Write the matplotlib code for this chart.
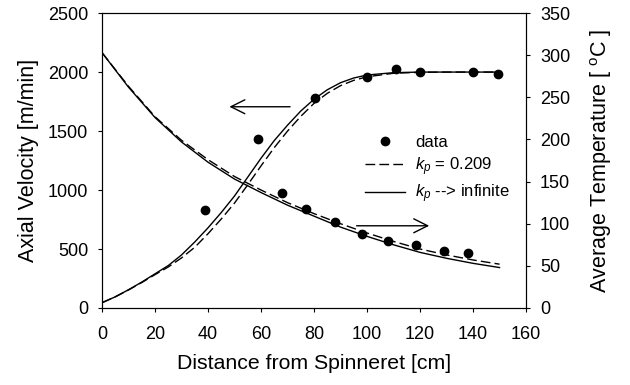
import numpy as np
import matplotlib
matplotlib.use('Agg')
import matplotlib.pyplot as plt

plt.rcParams['font.family'] = ['Liberation Sans', 'DejaVu Sans']
plt.rcParams['mathtext.fontset'] = 'custom'
plt.rcParams['mathtext.rm'] = 'Liberation Sans'
plt.rcParams['mathtext.it'] = 'Liberation Sans:italic'

# distancia desde la hilera [cm]
dist = [0, 5, 10, 15, 20, 25, 30, 35, 40, 45, 50, 55, 60, 65, 70, 75, 80,
        85, 90, 95, 100, 110, 120, 130, 140, 150]

# velocidad axial [m/min]
vel_inf = [45, 95, 155, 220, 290, 360, 450, 560, 680, 810, 950, 1110, 1270,
           1420, 1550, 1670, 1770, 1850, 1910, 1950, 1975, 1995, 2000, 2000, 2000, 2000]
vel_kp = [45, 95, 153, 216, 283, 348, 425, 515, 630, 755, 890, 1045, 1205,
          1360, 1500, 1625, 1735, 1820, 1885, 1930, 1960, 1990, 1998, 2000, 2000, 2000]

# temperatura media [C]
dist_t = [0, 10, 20, 30, 40, 50, 60, 70, 80, 90, 100, 110, 120, 130, 140, 150]
temp_inf = [303, 262, 226, 197, 173, 153, 137, 122, 109, 96, 85, 75, 66, 59, 53, 48]
temp_kp = [303, 263, 227, 199, 176, 156, 140, 125, 112, 100, 89, 79, 70, 63, 57, 52]

# datos medidos
x_vel = [39, 59, 80.5, 100, 111, 120, 140, 149.5]
y_vel = [830, 1430, 1777, 1960, 2025, 2003, 2003, 1983]
x_temp = [68, 77, 88, 98, 108, 118.5, 129, 138]
y_temp = [136, 118, 102, 88, 79, 75, 68, 65]

fig = plt.figure(figsize=(6.3, 3.85), dpi=100)
ax = fig.add_axes([0.162, 0.2, 0.673, 0.766])
ax2 = ax.twinx()

ax.plot(dist, vel_kp, color='black', lw=1.0, ls=(0, (7, 3)))
ax.plot(dist, vel_inf, color='black', lw=1.0)
ax.plot(x_vel, y_vel, 'o', color='black', ms=6)

l1, = ax2.plot(dist_t, temp_kp, color='black', lw=1.0, ls=(0, (7, 3)))
l2, = ax2.plot(dist_t, temp_inf, color='black', lw=1.0)
l0, = ax2.plot(x_temp, y_temp, 'o', color='black', ms=6)

ax.set_xlim(0, 160)
ax.set_ylim(0, 2500)
ax2.set_ylim(0, 350)
ax.set_xticks(range(0, 161, 20))
ax.set_yticks(range(0, 2501, 500))
ax2.set_yticks(range(0, 351, 50))

for a in (ax, ax2):
    a.tick_params(direction='out', length=3, width=0.8, labelsize=13,
                  colors='black', pad=7)
    for s in a.spines.values():
        s.set_linewidth(0.8)
ax.tick_params(axis='x', pad=10)

ax.set_xlabel('Distance from Spinneret [cm]', fontsize=15.3, labelpad=8)
ax.set_ylabel('Axial Velocity [m/min]', fontsize=15.5, labelpad=6)
ax2.set_ylabel('Average Temperature [ $^\\mathregular{o}$C ]', fontsize=15.5, labelpad=13)

# flechas
ax.annotate('', xy=(47, 1706), xytext=(72, 1706),
            arrowprops=dict(arrowstyle='->', color='black', lw=1.0,
                            mutation_scale=25))
ax.annotate('', xy=(124.5, 697), xytext=(95, 697),
            arrowprops=dict(arrowstyle='->', color='black', lw=1.0,
                            mutation_scale=25))

ax2.legend([l0, l1, l2], ['data', '$k_p$ = 0.209', '$k_p$ --> infinite'],
           loc='upper left', bbox_to_anchor=(0.6, 0.615), frameon=False,
           fontsize=12, handlelength=2.4, labelspacing=0.3, borderpad=0,
           handletextpad=0.6)

fig.savefig('out.png', dpi=100)
